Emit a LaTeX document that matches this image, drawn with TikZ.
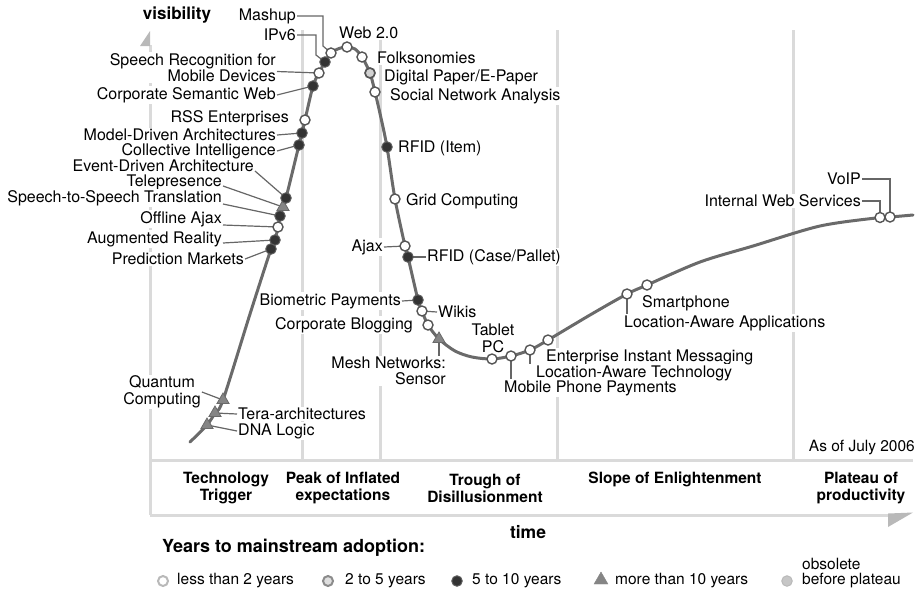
\documentclass[tikz,border=0pt]{standalone}
\usepackage{fontspec}
\setmainfont{TeX Gyre Heros}
\usetikzlibrary{shapes.geometric}
\definecolor{gridgray}{HTML}{DADADA}
\definecolor{curvegray}{HTML}{6A6A6A}
\definecolor{leadgray}{HTML}{666666}
\definecolor{ringgray}{HTML}{555555}
\definecolor{darkdot}{HTML}{333333}
\definecolor{tri}{HTML}{858585}
\newcommand\lblfont{\fontsize{16}{16.5}\selectfont}
\newcommand\legfont{\fontsize{15.5}{17}\selectfont}
\newcommand\phasefont{\fontsize{15.5}{17}\selectfont\bfseries}
\tikzset{
  gridline/.style={draw=gridgray, line width=3pt},
  hypecurve/.style={draw=curvegray, line width=3pt, line cap=round, line join=round},
  leader/.style={draw=leadgray, line width=1.2pt},
  lbl/.style={font=\lblfont, fill=white, inner sep=1pt, text=black},
  phase/.style={font=\phasefont, align=center, inner sep=0pt},
  legtext/.style={font=\legfont, anchor=west, inner sep=0pt},
  mkwhite/.style={circle, draw=ringgray, fill=white, line width=1.4pt, minimum size=10pt, inner sep=0pt},
  mkmid/.style={circle, draw=ringgray, fill=gray!35, line width=1.7pt, minimum size=10pt, inner sep=0pt},
  mkdark/.style={circle, draw=darkdot!80, fill=darkdot, line width=1pt, minimum size=10.5pt, inner sep=0pt},
  mktri/.style={regular polygon, regular polygon sides=3, draw=tri!80!black, fill=tri, line width=0.8pt, minimum size=14pt, inner sep=0pt},
}
\begin{document}
\begin{tikzpicture}[x=1pt, y=-1pt]
\useasboundingbox (0,0) rectangle (921,590);

% axes and phase grid
\draw[gridline] (150,45) -- (150,515);
\fill[gridgray!85!black] (150,31) -- (150,46) -- (140,46) -- cycle;
\draw[gridline] (150,460) -- (913,460);
\draw[gridline] (150,515) -- (890,515);
\fill[gridgray!85!black] (888,513.5) -- (913,512.5) -- (888,527) -- cycle;
\foreach \gx in {302,380,557,793} \draw[gridline] (\gx,30) -- (\gx,460);

\node[font=\fontsize{17}{17}\selectfont\bfseries, inner sep=0pt] (tVis) at (177,15) {visibility};

% technology labels
\node[lbl,anchor=east] (tMash) at (297,16) {Mashup};
\node[lbl,anchor=east] (tIPv6) at (297,35) {IPv6};
\node[lbl,anchor=east,align=right] (tSRM) at (277,67.5) {Speech Recognition for\\Mobile Devices};
\node[lbl,anchor=east] (tCSW) at (277,95) {Corporate Semantic Web};
\node[lbl,anchor=east] (tRSS) at (290,118) {RSS Enterprises};
\node[lbl,anchor=east] (tMDA) at (277,135) {Model-Driven Architectures};
\node[lbl,anchor=east] (tCI) at (277,151) {Collective Intelligence};
\node[lbl,anchor=east] (tEDA) at (255,166) {Event-Driven Architecture};
\node[lbl,anchor=east] (tTel) at (223,182) {Telepresence};
\node[lbl,anchor=east] (tS2S) at (223,198) {Speech-to-Speech Translation};
\node[lbl,anchor=east] (tOA) at (223,219) {Offline Ajax};
\node[lbl,anchor=east] (tAR) at (223,239) {Augmented Reality};
\node[lbl,anchor=east] (tPM) at (245,259) {Prediction Markets};
\node[lbl,anchor=west] (tWeb) at (338,33) {Web 2.0};
\node[lbl,anchor=west] (tFolk) at (376,58) {Folksonomies};
\node[lbl,anchor=west] (tDP) at (383,77) {Digital Paper/E-Paper};
\node[lbl,anchor=west] (tSNA) at (389,96) {Social Network Analysis};
\node[lbl,anchor=west] (tRFI) at (397,148) {RFID (Item)};
\node[lbl,anchor=west] (tGrid) at (405,201) {Grid Computing};
\node[lbl,anchor=east] (tAjax) at (384,247) {Ajax};
\node[lbl,anchor=west] (tRFC) at (426,257) {RFID (Case/Pallet)};
\node[lbl,anchor=east] (tBio) at (402,301) {Biometric Payments};
\node[lbl,anchor=west] (tWiki) at (437,312) {Wikis};
\node[lbl,anchor=east] (tCB) at (414,325) {Corporate Blogging};
\node[lbl,anchor=east,align=right] (tMesh) at (447,371) {Mesh Networks:\\Sensor};
\node[lbl,align=center] (tTab) at (493,338.5) {Tablet\\PC};
\node[lbl,anchor=west] (tEIM) at (545,357) {Enterprise Instant Messaging};
\node[lbl,anchor=west] (tLAT) at (535,373) {Location-Aware Technology};
\node[lbl,anchor=west] (tMPP) at (503,388) {Mobile Phone Payments};
\node[lbl,anchor=west] (tSmart) at (641,303) {Smartphone};
\node[lbl,anchor=west] (tLAA) at (623,323) {Location-Aware Applications};
\node[lbl,anchor=east] (tVoIP) at (862,179) {VoIP};
\node[lbl,anchor=east] (tIWS) at (862,201) {Internal Web Services};
\node[lbl,align=center] (tQC) at (162,392) {Quantum\\Computing};
\node[lbl,anchor=west] (tTera) at (237,414) {Tera-architectures};
\node[lbl,anchor=west] (tDNA) at (237,431) {DNA Logic};
\node[font=\legfont, anchor=east, inner sep=0pt] (tAsOf) at (915,448) {As of July 2006};

% phase names
\node[phase] (pTrig) at (226,488.5) {Technology\\Trigger};
\node[phase] (pPeak) at (343,488.5) {Peak of Inflated\\expectations};
\node[phase] (pTrough) at (485,488.5) {Trough of\\Disillusionment};
\node[phase] (pSlope) at (675,479) {Slope of Enlightenment};
\node[phase] (pPlat) at (861,488.5) {Plateau of\\productivity};
\node[font=\fontsize{17.5}{17.5}\selectfont\bfseries, inner sep=0pt] (tTime) at (528,532) {time};

% the hype curve
\draw[hypecurve] plot[smooth, tension=0.5] coordinates {
  (190,442) (207,425) (215,413) (223,400) (250,314) (271,249) (275,240)
  (278,227) (280,216) (283,207) (286,198) (299,145) (302,133) (305,120)
  (313,86) (319,73) (325,62) (331,53) (339,48.5) (347,47) (355,49) (362,57)
  (370,73) (375,92) (381,118) (387,147) (395,199) (405,246) (408,257)
  (418,300) (422,311) (428,325) (439,339) (455,351) (472,357) (492,359)
  (511,356) (530,350) (548,340) (590,315) (627,294) (647,285) (700,262)
  (753,246) (820,226) (880,217.5) (890,217) (913,215)};

% positions of the technologies on the curve
\coordinate (mDNA) at (207,425);
\coordinate (mTera) at (215,413);
\coordinate (mQC) at (223,400);
\coordinate (mPM) at (271,249);
\coordinate (mAR) at (275,240);
\coordinate (mOA) at (278,227);
\coordinate (mS2S) at (280,216);
\coordinate (mTel) at (283,207);
\coordinate (mEDA) at (286,198);
\coordinate (mCI) at (299,145);
\coordinate (mMDA) at (302,133);
\coordinate (mRSS) at (305,120);
\coordinate (mCSW) at (313,86);
\coordinate (mSRM) at (319,73);
\coordinate (mIPv6) at (325,62);
\coordinate (mMash) at (331,53);
\coordinate (mWeb) at (347,47);
\coordinate (mFolk) at (362,57);
\coordinate (mDP) at (370,73);
\coordinate (mSNA) at (375,92);
\coordinate (mRFI) at (387,147);
\coordinate (mGrid) at (395,199);
\coordinate (mAjax) at (405,246);
\coordinate (mRFC) at (408,257);
\coordinate (mBio) at (418,300);
\coordinate (mWiki) at (422,311);
\coordinate (mCB) at (428,325);
\coordinate (mMesh) at (439,339);
\coordinate (mTab) at (492,359);
\coordinate (mMPP) at (511,356);
\coordinate (mLAT) at (530,350);
\coordinate (mEIM) at (548,340);
\coordinate (mLAA) at (627,294);
\coordinate (mSmart) at (647,285);
\coordinate (mIWS) at (880,217.5);
\coordinate (mVoIP) at (890,217);

% leader lines
\draw[leader] (tMash.east) -- (323,16) -- (323,46) -- (mMash);
\draw[leader] (tIPv6.east) -- (316,35) -- (316,55) -- (mIPv6);
\draw[leader] ([yshift=-4pt]tSRM.east) -- (mSRM);
\draw[leader] (tCSW.east) -- (mCSW);
\draw[leader] (tMDA.east) -- (mMDA);
\draw[leader] (tCI.east) -- (mCI);
\draw[leader] ([yshift=-5pt]tEDA.east) -- (mEDA);
\draw[leader] ([yshift=-4pt]tTel.east) -- (mTel);
\draw[leader] ([yshift=-6pt]tS2S.east) -- (mS2S);
\draw[leader] ([yshift=-6pt]tOA.east) -- (mOA);
\draw[leader] ([yshift=-4pt]tAR.east) -- (mAR);
\draw[leader] (tPM.east) -- (mPM);
\draw[leader] (mAjax) -- (tAjax.east);
\draw[leader] (mRFC) -- (tRFC.west);
\draw[leader] (mBio) -- (tBio.east);
\draw[leader] (mWiki) -- (tWiki.west);
\draw[leader] (mMesh) -- (mMesh |- tMesh.north);
\draw[leader] (mMPP) -- (mMPP |- tMPP.north);
\draw[leader] (mLAT) -- (mLAT |- tLAT.north);
\draw[leader] (mLAA) -- (mLAA |- tLAA.north);
\draw[leader] (tVoIP.east) -| (mVoIP);
\draw[leader] (tIWS.east) -| (mIWS);
\draw[leader] (tQC.east) -- (mQC);
\draw[leader] (tTera.west) -- (mTera);
\draw[leader] (tDNA.west) -- (mDNA);

% markers, styled by years to mainstream adoption
\foreach \m/\s in {mDNA/mktri, mTera/mktri, mQC/mktri, mPM/mkdark, mAR/mkdark,
  mOA/mkwhite, mS2S/mkdark, mTel/mktri, mEDA/mkdark, mCI/mkdark, mMDA/mkdark,
  mRSS/mkwhite, mCSW/mkdark, mSRM/mkwhite, mIPv6/mkdark, mMash/mkwhite,
  mWeb/mkwhite, mFolk/mkwhite, mDP/mkmid, mSNA/mkwhite, mRFI/mkdark,
  mGrid/mkwhite, mAjax/mkwhite, mRFC/mkdark, mBio/mkdark, mWiki/mkwhite,
  mCB/mkwhite, mMesh/mktri, mTab/mkwhite, mMPP/mkwhite, mLAT/mkwhite,
  mEIM/mkwhite, mLAA/mkwhite, mSmart/mkwhite, mIWS/mkwhite, mVoIP/mkwhite}
  \node[\s] at (\m) {};

% legend
\node[font=\fontsize{18}{18}\selectfont\bfseries, anchor=west, inner sep=0pt] (tYears) at (162,548) {Years to mainstream adoption:};
\node[circle, draw=gray!55, fill=white, line width=2pt, minimum size=10pt, inner sep=0pt] (lg1) at (163,581) {};
\node[legtext] (lt1) at (177,581) {less than 2 years};
\node[circle, draw=gray!90, fill=gray!25, line width=2pt, minimum size=10pt, inner sep=0pt] (lg2) at (328,581) {};
\node[legtext] (lt2) at (345,581) {2 to 5 years};
\node[circle, draw=darkdot!80, fill=darkdot, line width=1pt, minimum size=10.5pt, inner sep=0pt] (lg3) at (457,581) {};
\node[legtext] (lt3) at (472,581) {5 to 10 years};
\node[regular polygon, regular polygon sides=3, fill=tri, draw=tri, minimum size=16pt, inner sep=0pt] (lg4) at (601,580) {};
\node[legtext] (lt4) at (615,581) {more than 10 years};
\node[circle, draw=gray!55, fill=gray!45, line width=1pt, minimum size=10.5pt, inner sep=0pt] (lg5) at (787,581) {};
\node[legtext] (lt5a) at (802,564) {obsolete};
\node[legtext] (lt5b) at (802,581) {before plateau};
\end{tikzpicture}
\end{document}
